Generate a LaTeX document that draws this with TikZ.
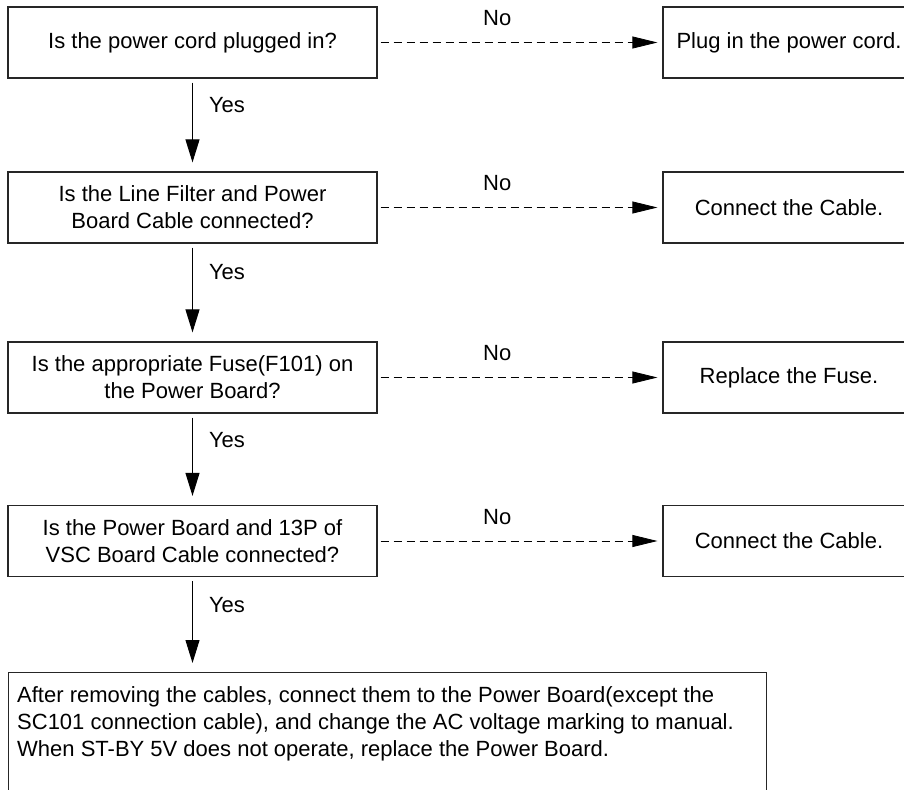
\documentclass[tikz,border=0pt]{standalone}
\usepackage{fontspec}
\setmainfont{Liberation Sans}
\usetikzlibrary{arrows.meta}

\begin{document}
\begin{tikzpicture}[x=1pt,y=-1pt,font=\fontsize{22}{27}\selectfont,
  box/.style={draw=black!85,line width=1.2pt,minimum height=71pt,align=center,inner sep=0pt},
  question/.style={box,minimum width=369pt},
  action/.style={box,minimum width=252pt},
  yes/.style={-{Triangle[length=23pt,width=14pt]},line width=1pt,shorten <=4pt,shorten >=9pt},
  no/.style={-{Triangle[length=25pt,width=12pt]},dash pattern=on 8pt off 5pt,line width=0.8pt,shorten <=3pt,shorten >=5pt},
  lbl/.style={inner sep=0pt}]
\useasboundingbox (0,0) rectangle (904,789);

\node[question] at (192.5,42.5) (q1) {Is the power cord plugged in?};
\node[question] at (192.5,207.5) (q2) {Is the Line Filter and Power\\Board Cable connected?};
\node[question] at (192.5,377.5) (q3) {Is the appropriate Fuse(F101) on\\the Power Board?};
\node[question] at (192.5,541) (q4) {Is the Power Board and 13P of\\VSC Board Cable connected?};

\node[action] at (789,42.5) (a1) {Plug in the power cord.};
\node[action] at (789,207.5) (a2) {Connect the Cable.};
\node[action] at (789,377.5) (a3) {Replace the Fuse.};
\node[action] at (789,541) (a4) {Connect the Cable.};

\node[draw=black!85,line width=1.2pt,minimum width=758pt,minimum height=130pt,inner sep=0pt,anchor=north west] at (8,672) (fix) {};
\node[anchor=north west,align=left,inner sep=0pt] at (17,686) (fixtext) {After removing the cables, connect them to the Power Board(except the\\SC101 connection cable), and change the AC voltage marking to manual.\\When ST-BY 5V does not operate, replace the Power Board.};

\draw[yes] (q1) -- (q2) node[lbl,pos=0.37,anchor=base west,xshift=16pt] {Yes};
\draw[yes] (q2) -- (q3) node[lbl,pos=0.37,anchor=base west,xshift=16pt] {Yes};
\draw[yes] (q3) -- (q4) node[lbl,pos=0.37,anchor=base west,xshift=16pt] {Yes};
\draw[yes] (q4) -- (q4 |- fix.north) node[lbl,pos=0.375,anchor=base west,xshift=16pt] {Yes};

\draw[no] (q1) -- (a1) node[lbl,pos=0.42,anchor=base,yshift=17pt] {No};
\draw[no] (q2) -- (a2) node[lbl,pos=0.42,anchor=base,yshift=17pt] {No};
\draw[no] (q3) -- (a3) node[lbl,pos=0.42,anchor=base,yshift=17pt] {No};
\draw[no] (q4) -- (a4) node[lbl,pos=0.42,anchor=base,yshift=17pt] {No};
\end{tikzpicture}
\end{document}
